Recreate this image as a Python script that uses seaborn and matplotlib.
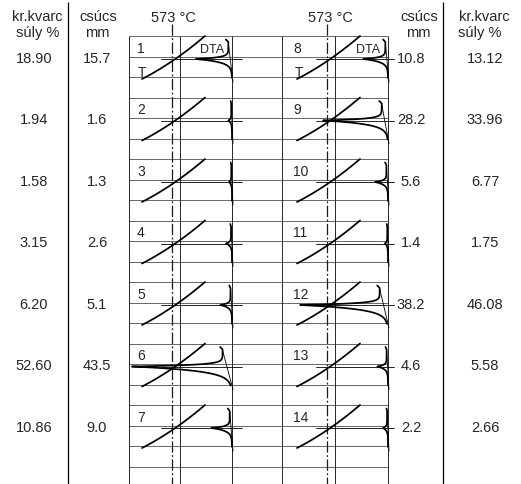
import numpy as np
import pandas as pd
import matplotlib
matplotlib.use("Agg")
import matplotlib.pyplot as plt
import seaborn as sns

sns.set_theme(style="white")
plt.rcParams['font.family'] = ['Liberation Sans', 'DejaVu Sans']

# sample numbers, quartz content (kr. kvarc súly %) and DTA peak height (csúcs mm)
left_samples = [1, 2, 3, 4, 5, 6, 7]
left_quartz = [18.90, 1.94, 1.58, 3.15, 6.20, 52.60, 10.86]
left_peak_mm = [15.7, 1.6, 1.3, 2.6, 5.1, 43.5, 9.0]

right_samples = [8, 9, 10, 11, 12, 13, 14]
right_peak_mm = [10.8, 28.2, 5.6, 1.4, 38.2, 4.6, 2.2]
right_quartz = [13.12, 33.96, 6.77, 1.75, 46.08, 5.58, 2.66]

W, H = 521, 485
GRID_TOP = 37.0
GRID_STEP = 20.5
ROW_H = 3 * GRID_STEP
MM_PX = 2.3   # peak height scale, px per mm

panels = [
    dict(x_left=129, dash=172, solid=180, x0=232, lab_x=137, ext=10,
         samples=left_samples, peaks=left_peak_mm),
    dict(x_left=282, dash=327, solid=335, x0=388, lab_x=293, ext=6,
         samples=right_samples, peaks=right_peak_mm),
]


def t_curve(dash, top):
    u = np.linspace(0, 1, 40)
    x = dash - 30 + 63 * u
    h = u - 0.25 * u * (1 - u)
    return x, top + 43 - 43 * h


def dta_curve(x0, top, mm):
    d = MM_PX * mm
    s = 0.4 + 0.09 * d
    hook = min(2.5, 0.08 * d + 0.3)
    yp = top + 23
    a1, a2 = 1.6, 2.5 + 0.02 * d
    yu = np.linspace(top + 6, yp, 80)
    xu = x0 - s - (d - s) * np.exp(-(yp - yu) / a1)
    yl = np.linspace(yp, top + 42, 120)
    xl = x0 - d * np.exp(-(yl - yp) / a2)
    x = np.concatenate([[x0 - s - hook], xu, xl])
    y = np.concatenate([[top + 3.5], yu, yl])
    return x, y, s


fig = plt.figure(figsize=(W / 100, H / 100), dpi=100)
ax = fig.add_axes([0, 0, 1, 1])

# grid of the recorder chart
grid_y = GRID_TOP + GRID_STEP * np.arange(22)
ax.hlines(grid_y, 129, 388, color='0.3', lw=0.6)
for p in panels:
    ax.vlines([p['x_left'], p['solid'], p['x0']], GRID_TOP, H, color='0.15', lw=0.7)
    ax.vlines(p['dash'], 25, H, color='0.1', lw=0.9, linestyle=(0, (9, 2, 1.5, 2)))
ax.vlines([68, 443], 3, H, color='black', lw=0.9)

# curves
rows = []
thin = []
for p in panels:
    for i, (num, mm) in enumerate(zip(p['samples'], p['peaks'])):
        top = GRID_TOP + ROW_H * i
        tx, ty = t_curve(p['dash'], top)
        rows.append(pd.DataFrame({'x': tx, 'y': ty, 'curve': f"T{num}"}))
        dx, dy, s = dta_curve(p['x0'], top, mm)
        rows.append(pd.DataFrame({'x': dx, 'y': dy, 'curve': f"D{num}"}))
        yp = top + 23
        thin.append(([p['dash'] - 11, p['x0'] + p['ext']], [yp, yp]))
        thin.append(([p['x0'] - s, p['x0'] + 1], [top + 7, top + 46]))
        ax.text(p['lab_x'], top + 16, str(num), fontsize=10, ha='left', va='baseline')

curves = pd.concat(rows, ignore_index=True)
sns.lineplot(data=curves, x='x', y='y', units='curve', estimator=None, sort=False,
             color='black', lw=1.25, ax=ax, legend=False)
for xs, ys in thin:
    ax.plot(xs, ys, color='black', lw=0.6)

# labels inside first rows
ax.text(138, GRID_TOP + 40, "T", fontsize=10, ha='left', va='baseline')
ax.text(295, GRID_TOP + 40, "T", fontsize=10, ha='left', va='baseline')
ax.text(200, GRID_TOP + 16, "DTA", fontsize=9, ha='left', va='baseline')
ax.text(356, GRID_TOP + 16, "DTA", fontsize=9, ha='left', va='baseline')

# column headers
fs = 10.5
ax.text(37, 21, "kr.kvarc", fontsize=fs, ha='center', va='baseline')
ax.text(38, 37, "súly %", fontsize=fs, ha='center', va='baseline')
ax.text(98, 21, "csúcs", fontsize=fs, ha='center', va='baseline')
ax.text(97, 37, "mm", fontsize=fs, ha='center', va='baseline')
ax.text(173, 22, "573 °C", fontsize=fs, ha='center', va='baseline')
ax.text(330, 22, "573 °C", fontsize=fs, ha='center', va='baseline')
ax.text(419, 21, "csúcs", fontsize=fs, ha='center', va='baseline')
ax.text(418, 37, "mm", fontsize=fs, ha='center', va='baseline')
ax.text(484, 21, "kr.kvarc", fontsize=fs, ha='center', va='baseline')
ax.text(480, 37, "súly %", fontsize=fs, ha='center', va='baseline')

# values
for i in range(7):
    yb = GRID_TOP + ROW_H * i + 26
    ax.text(34, yb, f"{left_quartz[i]:.2f}", fontsize=fs, ha='center', va='baseline')
    ax.text(97, yb, f"{left_peak_mm[i]:.1f}", fontsize=fs, ha='center', va='baseline')
    ax.text(411, yb, f"{right_peak_mm[i]:.1f}", fontsize=fs, ha='center', va='baseline')
    ax.text(485, yb, f"{right_quartz[i]:.2f}", fontsize=fs, ha='center', va='baseline')

ax.set_xlim(0, W)
ax.set_ylim(H, 0)
ax.axis('off')
fig.savefig('out.png', dpi=100)
